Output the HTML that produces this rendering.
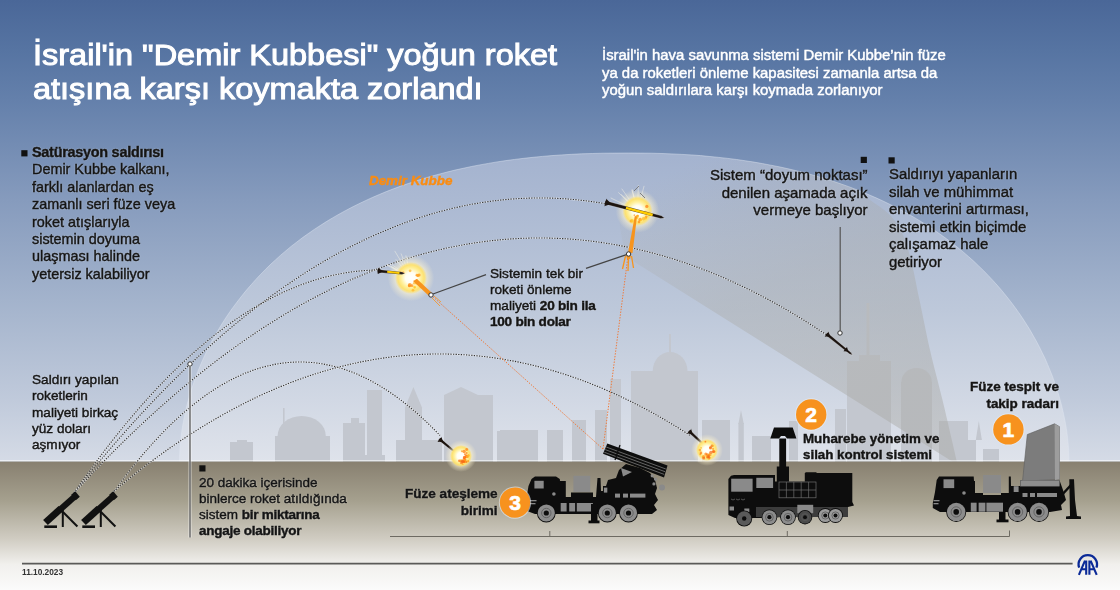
<!DOCTYPE html>
<html><head><meta charset="utf-8"><style>
html,body{margin:0;padding:0;width:1120px;height:590px;overflow:hidden;background:#fff}
#w{position:relative;width:1120px;height:590px;overflow:hidden;font-family:"Liberation Sans",sans-serif}
svg{position:absolute;left:0;top:0}
.t{position:absolute;white-space:nowrap;font-family:"Liberation Sans",sans-serif;will-change:transform}
.d b{letter-spacing:-0.25px}
.d{-webkit-text-stroke:0.45px #151515;text-shadow:0 0 1.5px rgba(255,255,255,0.7)}
</style></head><body><div id="w">
<svg width="1120" height="590" viewBox="0 0 1120 590">
<defs>
<linearGradient id="sky" x1="0" y1="0" x2="0" y2="462" gradientUnits="userSpaceOnUse">
<stop offset="0" stop-color="#4a6798"/><stop offset="0.108" stop-color="#5674a2"/><stop offset="0.216" stop-color="#6480ab"/><stop offset="0.433" stop-color="#869bbd"/><stop offset="0.649" stop-color="#a3b3cc"/><stop offset="0.866" stop-color="#c0cadb"/><stop offset="1" stop-color="#d5dbe6"/></linearGradient>
<linearGradient id="domeg" x1="0" y1="157" x2="0" y2="462" gradientUnits="userSpaceOnUse">
<stop offset="0" stop-color="#a4b3cf"/><stop offset="0.5" stop-color="#bdc8da"/><stop offset="1" stop-color="#dfe3eb"/></linearGradient>
<linearGradient id="ground" x1="0" y1="462" x2="0" y2="590" gradientUnits="userSpaceOnUse">
<stop offset="0" stop-color="#888070"/><stop offset="0.3" stop-color="#a5a08e"/><stop offset="0.6" stop-color="#d0ccc2"/><stop offset="0.8" stop-color="#f1f0ed"/><stop offset="1" stop-color="#fbfbfb"/></linearGradient>
<radialGradient id="boom"><stop offset="0" stop-color="#fff"/><stop offset="0.35" stop-color="#fffef2"/><stop offset="0.6" stop-color="#fff1a0"/><stop offset="0.82" stop-color="#ffe060" stop-opacity="0.85"/><stop offset="1" stop-color="#ffd84a" stop-opacity="0"/></radialGradient>
<filter id="bl" x="-50%" y="-50%" width="200%" height="200%"><feGaussianBlur stdDeviation="0.5"/></filter>
<radialGradient id="glow"><stop offset="0" stop-color="#fffdf0" stop-opacity="1"/><stop offset="0.55" stop-color="#fff8d8" stop-opacity="0.8"/><stop offset="0.8" stop-color="#fff4d0" stop-opacity="0.35"/><stop offset="1" stop-color="#fff4d0" stop-opacity="0"/></radialGradient>
<linearGradient id="beamg" x1="820" y1="420" x2="700" y2="160" gradientUnits="userSpaceOnUse"><stop offset="0" stop-color="#a8a8a4" stop-opacity="0.45"/><stop offset="0.5" stop-color="#a8a8a4" stop-opacity="0.36"/><stop offset="0.8" stop-color="#a8a8a4" stop-opacity="0.18"/><stop offset="1" stop-color="#a8a8a4" stop-opacity="0"/></linearGradient>
<clipPath id="dc"><path d="M179.5,461.5 L179.6,456.0 L179.9,450.1 L180.3,444.2 L180.9,438.1 L181.7,432.0 L182.6,425.8 L183.8,419.6 L185.0,413.4 L186.5,407.1 L188.1,400.9 L189.9,394.7 L191.8,388.4 L193.9,382.2 L196.1,376.1 L198.5,369.9 L201.0,363.8 L203.7,357.7 L206.5,351.7 L209.5,345.7 L212.6,339.8 L215.9,334.0 L219.3,328.2 L222.8,322.5 L226.5,316.8 L230.3,311.2 L234.3,305.7 L238.4,300.3 L242.6,294.9 L246.9,289.6 L251.4,284.5 L255.9,279.4 L260.6,274.4 L265.5,269.4 L270.4,264.6 L275.5,259.9 L280.7,255.2 L286.0,250.7 L291.4,246.2 L297.0,241.9 L302.6,237.6 L308.4,233.5 L314.3,229.4 L320.3,225.5 L326.4,221.6 L332.6,217.9 L339.0,214.2 L345.4,210.7 L352.0,207.2 L358.6,203.9 L365.4,200.7 L372.3,197.5 L379.3,194.5 L386.3,191.6 L393.5,188.8 L400.8,186.1 L408.3,183.5 L415.8,181.0 L423.4,178.6 L431.1,176.3 L439.0,174.2 L446.9,172.1 L455.0,170.1 L463.2,168.3 L471.5,166.5 L479.9,164.9 L488.4,163.4 L497.1,161.9 L505.9,160.6 L514.8,159.4 L523.9,158.3 L533.1,157.3 L542.4,156.4 L551.9,155.6 L561.7,154.9 L571.6,154.3 L581.8,153.8 L592.3,153.5 L603.2,153.2 L614.9,153.1 L628.5,153.0 L640.9,153.1 L651.7,153.2 L662.0,153.5 L672.0,153.9 L681.8,154.4 L691.3,154.9 L700.7,155.6 L709.9,156.5 L718.9,157.4 L727.9,158.4 L736.7,159.5 L745.4,160.8 L754.0,162.1 L762.4,163.6 L770.8,165.2 L779.1,166.8 L787.2,168.6 L795.3,170.5 L803.2,172.5 L811.1,174.6 L818.8,176.8 L826.5,179.1 L834.0,181.6 L841.4,184.1 L848.8,186.7 L856.0,189.5 L863.2,192.3 L870.2,195.3 L877.1,198.3 L884.0,201.5 L890.7,204.8 L897.3,208.1 L903.9,211.6 L910.3,215.2 L916.6,218.9 L922.8,222.7 L928.9,226.6 L934.9,230.5 L940.7,234.6 L946.5,238.8 L952.1,243.1 L957.7,247.5 L963.1,251.9 L968.4,256.5 L973.6,261.1 L978.6,265.9 L983.6,270.7 L988.4,275.7 L993.1,280.7 L997.7,285.8 L1002.1,290.9 L1006.4,296.2 L1010.6,301.5 L1014.7,307.0 L1018.6,312.4 L1022.4,318.0 L1026.0,323.6 L1029.6,329.3 L1032.9,335.1 L1036.2,340.9 L1039.3,346.8 L1042.2,352.7 L1045.1,358.6 L1047.7,364.7 L1050.2,370.7 L1052.6,376.8 L1054.8,382.9 L1056.9,389.0 L1058.8,395.2 L1060.5,401.4 L1062.1,407.6 L1063.5,413.7 L1064.8,419.9 L1065.9,426.0 L1066.9,432.2 L1067.6,438.2 L1068.2,444.2 L1068.7,450.2 L1068.9,456.0 L1069.0,461.5 Z"/></clipPath>
</defs>
<rect x="0" y="0" width="1120" height="462" fill="url(#sky)"/>
<path d="M179.5,461.5 L179.6,456.0 L179.9,450.1 L180.3,444.2 L180.9,438.1 L181.7,432.0 L182.6,425.8 L183.8,419.6 L185.0,413.4 L186.5,407.1 L188.1,400.9 L189.9,394.7 L191.8,388.4 L193.9,382.2 L196.1,376.1 L198.5,369.9 L201.0,363.8 L203.7,357.7 L206.5,351.7 L209.5,345.7 L212.6,339.8 L215.9,334.0 L219.3,328.2 L222.8,322.5 L226.5,316.8 L230.3,311.2 L234.3,305.7 L238.4,300.3 L242.6,294.9 L246.9,289.6 L251.4,284.5 L255.9,279.4 L260.6,274.4 L265.5,269.4 L270.4,264.6 L275.5,259.9 L280.7,255.2 L286.0,250.7 L291.4,246.2 L297.0,241.9 L302.6,237.6 L308.4,233.5 L314.3,229.4 L320.3,225.5 L326.4,221.6 L332.6,217.9 L339.0,214.2 L345.4,210.7 L352.0,207.2 L358.6,203.9 L365.4,200.7 L372.3,197.5 L379.3,194.5 L386.3,191.6 L393.5,188.8 L400.8,186.1 L408.3,183.5 L415.8,181.0 L423.4,178.6 L431.1,176.3 L439.0,174.2 L446.9,172.1 L455.0,170.1 L463.2,168.3 L471.5,166.5 L479.9,164.9 L488.4,163.4 L497.1,161.9 L505.9,160.6 L514.8,159.4 L523.9,158.3 L533.1,157.3 L542.4,156.4 L551.9,155.6 L561.7,154.9 L571.6,154.3 L581.8,153.8 L592.3,153.5 L603.2,153.2 L614.9,153.1 L628.5,153.0 L640.9,153.1 L651.7,153.2 L662.0,153.5 L672.0,153.9 L681.8,154.4 L691.3,154.9 L700.7,155.6 L709.9,156.5 L718.9,157.4 L727.9,158.4 L736.7,159.5 L745.4,160.8 L754.0,162.1 L762.4,163.6 L770.8,165.2 L779.1,166.8 L787.2,168.6 L795.3,170.5 L803.2,172.5 L811.1,174.6 L818.8,176.8 L826.5,179.1 L834.0,181.6 L841.4,184.1 L848.8,186.7 L856.0,189.5 L863.2,192.3 L870.2,195.3 L877.1,198.3 L884.0,201.5 L890.7,204.8 L897.3,208.1 L903.9,211.6 L910.3,215.2 L916.6,218.9 L922.8,222.7 L928.9,226.6 L934.9,230.5 L940.7,234.6 L946.5,238.8 L952.1,243.1 L957.7,247.5 L963.1,251.9 L968.4,256.5 L973.6,261.1 L978.6,265.9 L983.6,270.7 L988.4,275.7 L993.1,280.7 L997.7,285.8 L1002.1,290.9 L1006.4,296.2 L1010.6,301.5 L1014.7,307.0 L1018.6,312.4 L1022.4,318.0 L1026.0,323.6 L1029.6,329.3 L1032.9,335.1 L1036.2,340.9 L1039.3,346.8 L1042.2,352.7 L1045.1,358.6 L1047.7,364.7 L1050.2,370.7 L1052.6,376.8 L1054.8,382.9 L1056.9,389.0 L1058.8,395.2 L1060.5,401.4 L1062.1,407.6 L1063.5,413.7 L1064.8,419.9 L1065.9,426.0 L1066.9,432.2 L1067.6,438.2 L1068.2,444.2 L1068.7,450.2 L1068.9,456.0 L1069.0,461.5 Z" fill="url(#domeg)" stroke="#dfe6f2" stroke-opacity="0.45" stroke-width="1"/>
<g fill="#c3c7cf"><rect x="230" y="442" width="23" height="20"/><rect x="237" y="440" width="10" height="5"/><rect x="275" y="436" width="55" height="26"/><rect x="343" y="423" width="22" height="39"/><rect x="351" y="418" width="8" height="6"/><rect x="367" y="390" width="15" height="72"/><rect x="360" y="455" width="25" height="7"/><rect x="405" y="408" width="17" height="54"/><rect x="396" y="440" width="46" height="22"/><rect x="444" y="395" width="49" height="67"/><rect x="497" y="431" width="23" height="31"/><rect x="500" y="430" width="38" height="32"/><rect x="547" y="430" width="16" height="32"/><rect x="572" y="420" width="14" height="42"/><rect x="595" y="410" width="12" height="52"/><rect x="610" y="379" width="11" height="83"/><rect x="631" y="371" width="67" height="91"/><rect x="702" y="420" width="28" height="42"/><rect x="752" y="436" width="19" height="26"/><rect x="789" y="421" width="9" height="41"/><rect x="835" y="409" width="11" height="53"/><rect x="847" y="361" width="44" height="101"/><rect x="859" y="355" width="21" height="7"/><rect x="901" y="382" width="31" height="80"/><rect x="939" y="421" width="29" height="41"/><rect x="983" y="449" width="16" height="13"/><rect x="968" y="440" width="8" height="22"/><path d="M277.6,436 A24.1,20 0 0 1 325.8,436 Z"/><rect x="283" y="408" width="1.6" height="20"/><path d="M404.8,408 L413.4,387 L422.2,408 Z"/><path d="M444,395 L461,387 L478,395 Z"/><path d="M652.7,371 A17.4,19 0 0 1 687.5,371 Z"/><rect x="669" y="334" width="2" height="22"/><rect x="866.5" y="303" width="3" height="55"/><path d="M901.4,382 A15.2,14 0 0 1 931.8,382 Z"/><path d="M975.8,440 L978.8,421 L981.9,440 Z"/><rect x="738.4" y="423" width="5.4" height="39"/><path d="M738.4,424 L741,410 L743.8,424Z"/></g>
<path clip-path="url(#dc)" d="M957,462 L953,462 L625,256 L605,140 L845,140 L852,186  C855.0,188.3 863.7,195.2 870.0,200.0 C876.3,204.8 884.5,209.2 890.0,215.0 C895.5,220.8 899.5,227.5 903.0,235.0 C906.5,242.5 908.2,249.2 911.0,260.0 C913.8,270.8 916.3,285.0 919.5,300.0 C922.7,315.0 926.2,333.3 930.0,350.0 C933.8,366.7 938.0,381.3 942.5,400.0 C947.0,418.7 954.6,451.7 957.0,462.0 Z" fill="url(#beamg)"/>
<rect x="0" y="461.5" width="1120" height="128.5" fill="url(#ground)"/>
<rect x="0" y="460" width="1120" height="1.2" fill="#fff" fill-opacity="0.55"/>
<path d="M74.0,492.9 Q339.5,156.9 605.0,203.7" fill="none" stroke="#fff" stroke-opacity="0.55" stroke-width="1.3"/><path d="M74.0,492.9 Q339.5,156.9 605.0,203.7" fill="none" stroke="#333" stroke-width="1.1" stroke-dasharray="1.3 1.3"/>
<path d="M74.0,493.0 Q226.0,271.5 378.0,270.0" fill="none" stroke="#fff" stroke-opacity="0.55" stroke-width="1.3"/><path d="M74.0,493.0 Q226.0,271.5 378.0,270.0" fill="none" stroke="#333" stroke-width="1.1" stroke-dasharray="1.3 1.3"/>
<path d="M72.0,495.2 Q449.2,80.1 826.5,334.9" fill="none" stroke="#fff" stroke-opacity="0.55" stroke-width="1.3"/><path d="M72.0,495.2 Q449.2,80.1 826.5,334.9" fill="none" stroke="#333" stroke-width="1.1" stroke-dasharray="1.3 1.3"/>
<path d="M113.5,492.4 Q276.8,264.1 440.0,435.5" fill="none" stroke="#fff" stroke-opacity="0.55" stroke-width="1.3"/><path d="M113.5,492.4 Q276.8,264.1 440.0,435.5" fill="none" stroke="#333" stroke-width="1.1" stroke-dasharray="1.3 1.3"/>
<path d="M111.8,493.0 Q400.9,247.6 690.0,435.4" fill="none" stroke="#fff" stroke-opacity="0.55" stroke-width="1.3"/><path d="M111.8,493.0 Q400.9,247.6 690.0,435.4" fill="none" stroke="#333" stroke-width="1.1" stroke-dasharray="1.3 1.3"/>
<path d="M603,449 L431,295" fill="none" stroke="#f07a3a" stroke-width="1" stroke-dasharray="1.4 1.4"/>

<path d="M603,449 L628,256" fill="none" stroke="#f07a3a" stroke-width="1" stroke-dasharray="1.4 1.4"/>

<g><line x1="637.5" y1="211.0" x2="618.3" y2="192.4" stroke="#fffbe6" stroke-opacity="0.7" stroke-width="0.6"/><line x1="637.5" y1="211.0" x2="621.7" y2="188.7" stroke="#fffbe6" stroke-opacity="0.7" stroke-width="0.6"/><line x1="637.5" y1="211.0" x2="631.9" y2="190.0" stroke="#fffbe6" stroke-opacity="0.7" stroke-width="0.6"/><line x1="637.5" y1="211.0" x2="610.7" y2="197.9" stroke="#fffbe6" stroke-opacity="0.7" stroke-width="0.6"/><line x1="637.5" y1="211.0" x2="621.1" y2="194.2" stroke="#fffbe6" stroke-opacity="0.7" stroke-width="0.6"/><line x1="637.5" y1="211.0" x2="644.1" y2="185.9" stroke="#fffbe6" stroke-opacity="0.7" stroke-width="0.6"/><line x1="637.5" y1="211.0" x2="638.4" y2="185.0" stroke="#fffbe6" stroke-opacity="0.7" stroke-width="0.6"/><line x1="637.5" y1="211.0" x2="632.1" y2="189.1" stroke="#fffbe6" stroke-opacity="0.7" stroke-width="0.6"/><circle cx="637.5" cy="211" r="21.8" fill="url(#glow)"/><circle cx="637.5" cy="211" r="15.0" fill="url(#boom)"/><g filter="url(#bl)"><circle cx="639.0" cy="221.9" r="1.3" fill="#ff8a14" fill-opacity="0.7"/><circle cx="637.6" cy="216.0" r="1.5" fill="#ffc82a" fill-opacity="0.7"/><circle cx="646.8" cy="206.4" r="1.6" fill="#ff7a10" fill-opacity="0.7"/><circle cx="643.5" cy="218.8" r="1.7" fill="#ffb52a" fill-opacity="0.7"/><circle cx="645.8" cy="217.5" r="1.2" fill="#ff9c1c" fill-opacity="0.7"/><circle cx="634.4" cy="215.2" r="0.9" fill="#ff9c1c" fill-opacity="0.7"/><circle cx="646.8" cy="213.1" r="1.6" fill="#ff7a10" fill-opacity="0.7"/><circle cx="645.4" cy="218.3" r="1.4" fill="#ffc82a" fill-opacity="0.7"/><circle cx="640.1" cy="219.5" r="1.7" fill="#ff8a14" fill-opacity="0.7"/><circle cx="631.1" cy="221.0" r="1.5" fill="#ff9c1c" fill-opacity="0.7"/><circle cx="637.1" cy="217.9" r="1.3" fill="#ffc82a" fill-opacity="0.7"/><circle cx="640.9" cy="220.3" r="1.0" fill="#ffc82a" fill-opacity="0.7"/><circle cx="636.9" cy="216.4" r="1.3" fill="#ffb52a" fill-opacity="0.7"/><circle cx="646.4" cy="216.5" r="1.2" fill="#ff9c1c" fill-opacity="0.7"/><circle cx="645.1" cy="212.0" r="1.2" fill="#ff8a14" fill-opacity="0.7"/><circle cx="646.3" cy="213.5" r="0.8" fill="#ffc82a" fill-opacity="0.7"/><circle cx="632.1" cy="220.7" r="1.8" fill="#ffc82a" fill-opacity="0.7"/><circle cx="637.9" cy="215.8" r="0.8" fill="#ff8a14" fill-opacity="0.7"/></g></g>
<polygon points="604.5,204.1 660.8,218.6 664.6,218.1 661.5,215.8 605.5,200.7" fill="#1c1410" stroke="#fff" stroke-opacity="0.5" stroke-width="0.5"/><polygon points="611.3,204.1 604.0,206.2 604.5,206.4 605.0,202.4" fill="#1c1410"/><polygon points="611.3,204.1 606.0,198.6 606.5,198.7 605.0,202.4" fill="#1c1410"/><line x1="625.9" y1="207.9" x2="652.7" y2="215.0" stroke="#ffcc00" stroke-width="2.5"/>
<path d="M634,191 L639,186 M640,193 L645,198" stroke="#777" stroke-width="0.9"/>
<polygon points="634.8,216 637,216.5 632.5,253 628,253" fill="#f7941d"/>
<path d="M625.5,256 L622.5,269 M628.6,256 L628,271 M631.5,256 L633.5,268" stroke="#f7941d" stroke-width="1.3"/>
<path d="M626,255 L631,255 L630,259 L627,259Z" fill="#f7941d"/>
<g><line x1="411.0" y1="278.0" x2="395.8" y2="259.3" stroke="#fffbe6" stroke-opacity="0.7" stroke-width="0.6"/><line x1="411.0" y1="278.0" x2="405.8" y2="255.4" stroke="#fffbe6" stroke-opacity="0.7" stroke-width="0.6"/><line x1="411.0" y1="278.0" x2="401.0" y2="253.5" stroke="#fffbe6" stroke-opacity="0.7" stroke-width="0.6"/><line x1="411.0" y1="278.0" x2="386.6" y2="264.1" stroke="#fffbe6" stroke-opacity="0.7" stroke-width="0.6"/><line x1="411.0" y1="278.0" x2="386.9" y2="265.2" stroke="#fffbe6" stroke-opacity="0.7" stroke-width="0.6"/><line x1="411.0" y1="278.0" x2="390.8" y2="266.1" stroke="#fffbe6" stroke-opacity="0.7" stroke-width="0.6"/><line x1="411.0" y1="278.0" x2="394.7" y2="250.9" stroke="#fffbe6" stroke-opacity="0.7" stroke-width="0.6"/><line x1="411.0" y1="278.0" x2="390.6" y2="263.8" stroke="#fffbe6" stroke-opacity="0.7" stroke-width="0.6"/><circle cx="411" cy="278" r="23.2" fill="url(#glow)"/><circle cx="411" cy="278" r="16.0" fill="url(#boom)"/><g filter="url(#bl)"><circle cx="413.0" cy="290.2" r="1.4" fill="#ffb52a" fill-opacity="0.7"/><circle cx="416.9" cy="275.2" r="1.4" fill="#ff9c1c" fill-opacity="0.7"/><circle cx="416.6" cy="279.9" r="0.9" fill="#ff7a10" fill-opacity="0.7"/><circle cx="414.8" cy="287.5" r="0.9" fill="#ffc82a" fill-opacity="0.7"/><circle cx="412.0" cy="285.7" r="1.4" fill="#ff8a14" fill-opacity="0.7"/><circle cx="414.5" cy="287.1" r="1.4" fill="#ffc82a" fill-opacity="0.7"/><circle cx="416.3" cy="283.1" r="1.5" fill="#ffb52a" fill-opacity="0.7"/><circle cx="416.8" cy="281.6" r="1.0" fill="#ff9c1c" fill-opacity="0.7"/><circle cx="417.8" cy="275.6" r="1.4" fill="#ff7a10" fill-opacity="0.7"/><circle cx="409.8" cy="285.0" r="1.9" fill="#ff8a14" fill-opacity="0.7"/><circle cx="414.1" cy="283.3" r="1.2" fill="#ffb52a" fill-opacity="0.7"/><circle cx="420.1" cy="286.5" r="0.9" fill="#ffc82a" fill-opacity="0.7"/><circle cx="400.4" cy="272.8" r="1.2" fill="#ff7a10" fill-opacity="0.7"/><circle cx="403.2" cy="272.7" r="1.3" fill="#ff8a14" fill-opacity="0.7"/><circle cx="419.1" cy="275.1" r="1.5" fill="#ff8a14" fill-opacity="0.7"/><circle cx="410.1" cy="270.8" r="1.4" fill="#ffb52a" fill-opacity="0.7"/><circle cx="409.3" cy="285.7" r="1.5" fill="#ff8a14" fill-opacity="0.7"/><circle cx="418.1" cy="275.2" r="1.5" fill="#ffb52a" fill-opacity="0.7"/></g></g>
<polygon points="377.5,272.4 401.9,274.4 405.0,273.5 402.1,272.0 377.7,269.4" fill="#1c1410" stroke="#fff" stroke-opacity="0.5" stroke-width="0.5"/><polygon points="383.0,271.4 377.3,274.2 377.8,274.2 377.6,270.9" fill="#1c1410"/><polygon points="383.0,271.4 377.9,267.6 378.4,267.7 377.6,270.9" fill="#1c1410"/><line x1="387.2" y1="271.8" x2="399.5" y2="273.0" stroke="#ffcc00" stroke-width="2.1"/>
<polygon points="413,281 417,279 432,293 429,296" fill="#f7941d"/>
<path d="M432,298 L440,306 M434,296 L441,302" stroke="#f7941d" stroke-width="1" stroke-opacity="0.8"/>
<polygon points="438.4,440.1 452.1,451.1 455.0,452.0 453.6,449.4 440.2,437.9" fill="#1c1410" stroke="#fff" stroke-opacity="0.5" stroke-width="0.5"/><polygon points="443.2,442.2 437.3,441.4 437.7,441.7 439.3,439.0" fill="#1c1410"/><polygon points="443.2,442.2 441.3,436.6 441.6,436.9 439.3,439.0" fill="#1c1410"/>
<g><circle cx="461" cy="456" r="15.9" fill="url(#glow)"/><circle cx="461" cy="456" r="11.0" fill="url(#boom)"/><g filter="url(#bl)"><circle cx="465.2" cy="460.8" r="1.7" fill="#ffb020" fill-opacity="0.7"/><circle cx="466.3" cy="462.0" r="1.0" fill="#f26a1a" fill-opacity="0.7"/><circle cx="465.0" cy="461.3" r="1.0" fill="#ffb020" fill-opacity="0.7"/><circle cx="464.5" cy="457.4" r="1.6" fill="#ff7a10" fill-opacity="0.7"/><circle cx="462.4" cy="461.3" r="1.3" fill="#f26a1a" fill-opacity="0.7"/><circle cx="461.6" cy="462.7" r="1.6" fill="#ff7a10" fill-opacity="0.7"/><circle cx="465.0" cy="454.3" r="1.1" fill="#ff7a10" fill-opacity="0.7"/><circle cx="459.4" cy="460.8" r="1.4" fill="#ff6a10" fill-opacity="0.7"/><circle cx="464.3" cy="462.0" r="1.3" fill="#ff7a10" fill-opacity="0.7"/><circle cx="464.1" cy="459.7" r="1.8" fill="#ff7a10" fill-opacity="0.7"/><circle cx="460.5" cy="461.0" r="1.1" fill="#ff9a18" fill-opacity="0.7"/><circle cx="466.6" cy="452.9" r="1.0" fill="#ff7a10" fill-opacity="0.7"/><circle cx="464.1" cy="451.5" r="1.7" fill="#ff7a10" fill-opacity="0.7"/><circle cx="462.9" cy="464.2" r="0.9" fill="#ffb020" fill-opacity="0.7"/><circle cx="466.4" cy="455.3" r="0.9" fill="#ff6a10" fill-opacity="0.7"/><circle cx="461.9" cy="451.3" r="1.0" fill="#ff9a18" fill-opacity="0.7"/><circle cx="466.5" cy="456.5" r="1.7" fill="#ff6a10" fill-opacity="0.7"/><circle cx="461.1" cy="459.9" r="0.9" fill="#ffb020" fill-opacity="0.7"/><circle cx="463.8" cy="461.7" r="1.3" fill="#ff6a10" fill-opacity="0.7"/><circle cx="468.5" cy="455.3" r="1.2" fill="#ffb020" fill-opacity="0.7"/><circle cx="465.2" cy="459.8" r="1.1" fill="#ff9a18" fill-opacity="0.7"/><circle cx="466.7" cy="449.5" r="1.4" fill="#ff7a10" fill-opacity="0.7"/><circle cx="462.3" cy="461.3" r="1.6" fill="#f26a1a" fill-opacity="0.7"/><circle cx="468.1" cy="461.2" r="1.1" fill="#ff9a18" fill-opacity="0.7"/><circle cx="467.6" cy="456.4" r="1.6" fill="#ffb020" fill-opacity="0.7"/><circle cx="464.4" cy="457.7" r="1.4" fill="#ff6a10" fill-opacity="0.7"/></g></g>
<polygon points="688.0,432.0 700.2,442.9 703.0,444.0 701.7,441.3 690.0,430.0" fill="#1c1410" stroke="#fff" stroke-opacity="0.5" stroke-width="0.5"/><polygon points="692.7,434.4 686.9,433.3 687.3,433.6 689.0,431.0" fill="#1c1410"/><polygon points="692.7,434.4 691.1,428.7 691.5,429.1 689.0,431.0" fill="#1c1410"/>
<g><circle cx="707" cy="450" r="15.9" fill="url(#glow)"/><circle cx="707" cy="450" r="11.0" fill="url(#boom)"/><g filter="url(#bl)"><circle cx="713.9" cy="451.6" r="1.5" fill="#ff6a10" fill-opacity="0.7"/><circle cx="707.6" cy="456.9" r="1.6" fill="#ff6a10" fill-opacity="0.7"/><circle cx="713.1" cy="448.9" r="1.1" fill="#ff9a18" fill-opacity="0.7"/><circle cx="710.5" cy="448.1" r="1.5" fill="#ff7a10" fill-opacity="0.7"/><circle cx="700.3" cy="454.2" r="1.0" fill="#ff9a18" fill-opacity="0.7"/><circle cx="703.6" cy="456.6" r="1.7" fill="#ff9a18" fill-opacity="0.7"/><circle cx="710.9" cy="452.4" r="1.7" fill="#f26a1a" fill-opacity="0.7"/><circle cx="709.0" cy="455.3" r="1.2" fill="#ffb020" fill-opacity="0.7"/><circle cx="707.9" cy="456.8" r="1.2" fill="#f26a1a" fill-opacity="0.7"/><circle cx="703.7" cy="458.1" r="1.5" fill="#f26a1a" fill-opacity="0.7"/><circle cx="708.9" cy="458.5" r="1.3" fill="#ffb020" fill-opacity="0.7"/><circle cx="709.2" cy="454.4" r="1.0" fill="#ff9a18" fill-opacity="0.7"/><circle cx="706.9" cy="455.8" r="1.4" fill="#ffb020" fill-opacity="0.7"/><circle cx="712.0" cy="445.9" r="1.4" fill="#f26a1a" fill-opacity="0.7"/><circle cx="707.4" cy="454.4" r="1.2" fill="#ff7a10" fill-opacity="0.7"/><circle cx="700.9" cy="452.9" r="1.3" fill="#ff7a10" fill-opacity="0.7"/><circle cx="705.4" cy="441.7" r="0.9" fill="#ff6a10" fill-opacity="0.7"/><circle cx="699.9" cy="450.1" r="1.3" fill="#ff9a18" fill-opacity="0.7"/><circle cx="710.0" cy="454.7" r="1.6" fill="#ff9a18" fill-opacity="0.7"/><circle cx="709.3" cy="457.6" r="1.2" fill="#ff6a10" fill-opacity="0.7"/><circle cx="712.8" cy="445.8" r="1.1" fill="#ffb020" fill-opacity="0.7"/><circle cx="708.6" cy="456.5" r="1.4" fill="#f26a1a" fill-opacity="0.7"/><circle cx="713.3" cy="451.6" r="1.4" fill="#ff6a10" fill-opacity="0.7"/><circle cx="705.8" cy="454.0" r="1.5" fill="#ff7a10" fill-opacity="0.7"/><circle cx="710.4" cy="447.5" r="1.3" fill="#f26a1a" fill-opacity="0.7"/><circle cx="701.1" cy="447.8" r="0.9" fill="#ffb020" fill-opacity="0.7"/></g></g>
<polygon points="825.6,334.9 849.6,354.1 852.5,355.0 851.0,352.4 827.4,332.7" fill="#1c1410" stroke="#fff" stroke-opacity="0.5" stroke-width="0.5"/><polygon points="830.4,337.0 824.6,336.2 824.9,336.5 826.5,333.8" fill="#1c1410"/><polygon points="830.4,337.0 828.4,331.4 828.8,331.7 826.5,333.8" fill="#1c1410"/><polygon points="848.3,351.5 843.5,351.2 845.2,349.1" fill="#1c1410"/><polygon points="848.3,351.5 847.0,346.9 845.2,349.1" fill="#1c1410"/>
<circle cx="431" cy="295" r="2.2" fill="#fff" stroke="#333" stroke-width="1"/>
<circle cx="628.6" cy="254" r="2.2" fill="#fff" stroke="#333" stroke-width="1"/>
<circle cx="190" cy="364" r="2.2" fill="#fff" stroke="#333" stroke-width="1"/>
<circle cx="840" cy="333" r="2.2" fill="#fff" stroke="#333" stroke-width="1"/>
<path d="M433,294 L486,274.6" stroke="#444" stroke-width="1.2" fill="none"/>
<path d="M586,268.4 L626.5,254.6" stroke="#444" stroke-width="1.2" fill="none"/>
<line x1="190" y1="366" x2="190" y2="537.5" stroke="#fff" stroke-opacity="0.6" stroke-width="3"/><line x1="190" y1="366" x2="190" y2="537.5" stroke="#555" stroke-width="1.3"/>
<line x1="840.2" y1="227" x2="840.2" y2="331" stroke="#555" stroke-width="1.2"/>
<rect x="21.3" y="150.2" width="6.2" height="6.2" fill="#111"/>
<rect x="860.7" y="156.8" width="6.2" height="6.2" fill="#111"/>
<rect x="888.5" y="157.3" width="6.2" height="6.2" fill="#111"/>
<rect x="199.3" y="465.3" width="6.2" height="6.2" fill="#111"/>
<path d="M390,536.5 L1009.5,536.5 L1009.5,530.5 M549.8,536.5 L549.8,531 M787.3,536.5 L787.3,531" stroke="#6d6a62" stroke-width="1" fill="none"/>
<line x1="22" y1="563.6" x2="1072.6" y2="563.6" stroke="#5a5a58" stroke-width="1.6"/>
<g stroke="#0b2a97" fill="none"><path d="M1079.2,567.6 A9.2,9.2 0 1 1 1096.4,567.6" stroke-width="2.3"/><path d="M1078.9,574.8 L1085,560.6 M1086.2,560.6 L1086.2,574.8 M1081.6,569.3 L1086.2,569.3 M1096.7,574.8 L1090.6,560.6 M1089.4,560.6 L1089.4,574.8 M1094,569.3 L1089.4,569.3" stroke-width="2.1"/></g>
<g transform="translate(0,0)" fill="#111" stroke="#111"><line x1="45.5" y1="522.5" x2="61" y2="508.5" stroke-width="7" stroke-linecap="butt"/><line x1="59" y1="510.5" x2="76.5" y2="495" stroke-width="6.2"/><line x1="73.5" y1="497.5" x2="77.5" y2="494" stroke-width="7"/><rect x="44.3" y="525.4" width="12.7" height="2.6" stroke="none"/><line x1="62.8" y1="509" x2="62.8" y2="527" stroke-width="2"/><line x1="63" y1="512" x2="77.4" y2="526.5" stroke-width="2"/></g>
<g transform="translate(38,0)" fill="#111" stroke="#111"><line x1="45.5" y1="522.5" x2="61" y2="508.5" stroke-width="7" stroke-linecap="butt"/><line x1="59" y1="510.5" x2="76.5" y2="495" stroke-width="6.2"/><line x1="73.5" y1="497.5" x2="77.5" y2="494" stroke-width="7"/><rect x="44.3" y="525.4" width="12.7" height="2.6" stroke="none"/><line x1="62.8" y1="509" x2="62.8" y2="527" stroke-width="2"/><line x1="63" y1="512" x2="77.4" y2="526.5" stroke-width="2"/></g>
<polygon points="527,511 526.5,498 528.5,486 531.5,479 535,476.5 556,476.5 559.8,479 560,481 565.8,481 565.8,497 571,497 571,492.5 593,492.5 593,497 596,497 597.5,478 600.5,478 601,491 603,491 603,486 606,486 608,480 616,478 619,470 626,464 640,468 650,473 655,480 657,488 655,494 658,500 654,505 657,510 652,514 535,514" fill="#0d0d0d" /><polygon points="607.3,443.6 667.5,465.6 664,477.5 603,453.7" fill="#0d0d0d" /><g stroke="#8a8a8a" stroke-width="0.7"><line x1="606.2" y1="447" x2="665.8" y2="469"/><line x1="605.2" y1="449.6" x2="665" y2="471.7"/><line x1="604.2" y1="452.2" x2="664.2" y2="474.4"/></g><line x1="620" y1="445" x2="615" y2="460" stroke="#0d0d0d" stroke-width="1.2"/><polygon points="621,468 632,472 623,476.5" fill="#8a8a8a" /><rect x="573.4" y="475.8" width="16.9" height="16.1" fill="#8a8a8a"/><rect x="534.4" y="480.8" width="9.3" height="7.7" fill="#8a8a8a"/><circle cx="553.9" cy="494" r="1.8" fill="#8a8a8a"/><rect x="560.7" y="503" width="5.9" height="8.5" fill="#8a8a8a"/><rect x="569.2" y="503" width="5.9" height="8.5" fill="#8a8a8a"/><rect x="576.8" y="503" width="16.1" height="8.5" fill="#8a8a8a"/><rect x="603.9" y="487.6" width="3.4" height="5" fill="#8a8a8a"/><rect x="615" y="493.6" width="5" height="4" fill="#8a8a8a"/><rect x="623" y="493.6" width="5" height="4" fill="#8a8a8a"/><rect x="630" y="493.6" width="15.4" height="4" fill="#8a8a8a"/><rect x="527.5" y="500" width="9" height="1.3" fill="#8a8a8a"/><rect x="527.5" y="503" width="8" height="1.3" fill="#8a8a8a"/><circle cx="652.2" cy="475.8" r="1.6" fill="#8a8a8a"/><circle cx="655.6" cy="479.2" r="1.6" fill="#8a8a8a"/><circle cx="653.9" cy="483.9" r="1.6" fill="#8a8a8a"/><circle cx="662" cy="487.6" r="3" fill="#8a8a8a"/><rect x="591" y="504" width="6.5" height="18" fill="#0d0d0d"/><rect x="588.5" y="520.5" width="11" height="2.8" fill="#0d0d0d"/><circle cx="546.3" cy="513" r="9.4" fill="#0d0d0d"/><circle cx="546.3" cy="513" r="8.6" fill="#8c8c8c"/><circle cx="546.3" cy="513" r="4.7" fill="none" stroke="#5a5a5a" stroke-width="0.8"/><circle cx="546.3" cy="513" r="2.6" fill="#0d0d0d"/><circle cx="607.3" cy="513" r="9.4" fill="#0d0d0d"/><circle cx="607.3" cy="513" r="8.6" fill="#8c8c8c"/><circle cx="607.3" cy="513" r="4.7" fill="none" stroke="#5a5a5a" stroke-width="0.8"/><circle cx="607.3" cy="513" r="2.6" fill="#0d0d0d"/><circle cx="628.5" cy="513" r="9.4" fill="#0d0d0d"/><circle cx="628.5" cy="513" r="8.6" fill="#8c8c8c"/><circle cx="628.5" cy="513" r="4.7" fill="none" stroke="#5a5a5a" stroke-width="0.8"/><circle cx="628.5" cy="513" r="2.6" fill="#0d0d0d"/>
<polygon points="728.4,515 728.4,479 731,475.8 734,475 775,475 775,481.5 776.8,481.5 776.8,466.6 779.3,466.6 779.3,438.6 786.1,438.6 786.1,466.6 789,466.6 789,481.5 804.8,481.5 804.8,473 806,472.2 816.5,472.2 816.5,473 852.3,473 852.3,502 854,505.5 848,507 848,514 760,518 735,518" fill="#0d0d0d" /><polygon points="774,427.4 792.7,427.4 796.4,438.6 787,438.6 785,436 781,436 779,438.6 770.3,438.6" fill="#0d0d0d" /><rect x="731.2" y="478.7" width="21.4" height="13" fill="#8a8a8a"/><rect x="756.3" y="477.8" width="16.8" height="10.2" fill="#8a8a8a"/><g stroke="#6e6e6e" stroke-width="0.7" fill="none"><rect x="779" y="482" width="37" height="15.8"/><line x1="779" y1="490" x2="816" y2="490"/><line x1="786.4" y1="482" x2="786.4" y2="497.8"/><line x1="793.8" y1="482" x2="793.8" y2="497.8"/><line x1="801.2" y1="482" x2="801.2" y2="497.8"/><line x1="808.6" y1="482" x2="808.6" y2="497.8"/><path d="M731,499 q2,2 4,0 M736,499 q2,2 4,0 M741,499 q2,2 4,0"/></g><rect x="729.5" y="506.5" width="4.5" height="4" fill="#8a8a8a"/><rect x="744.3" y="508.5" width="5" height="3.6" fill="#8a8a8a"/><rect x="756" y="507" width="92" height="10" fill="#3c3c3c"/><rect x="797.3" y="504.8" width="15.9" height="8.4" fill="#8a8a8a"/><circle cx="744.2" cy="518.5" r="8.0" fill="#0d0d0d"/><circle cx="744.2" cy="518.5" r="7.2" fill="#5a5a5a"/><circle cx="744.2" cy="518.5" r="4.0" fill="none" stroke="#5a5a5a" stroke-width="0.8"/><circle cx="744.2" cy="518.5" r="2.2" fill="#0d0d0d"/><circle cx="769.4" cy="517.2" r="7.8" fill="#0d0d0d"/><circle cx="769.4" cy="517.2" r="7.0" fill="#8c8c8c"/><circle cx="769.4" cy="517.2" r="3.9" fill="none" stroke="#5a5a5a" stroke-width="0.8"/><circle cx="769.4" cy="517.2" r="2.1" fill="#0d0d0d"/><circle cx="788.0" cy="517.2" r="7.8" fill="#0d0d0d"/><circle cx="788.0" cy="517.2" r="7.0" fill="#8c8c8c"/><circle cx="788.0" cy="517.2" r="3.9" fill="none" stroke="#5a5a5a" stroke-width="0.8"/><circle cx="788.0" cy="517.2" r="2.1" fill="#0d0d0d"/><circle cx="805" cy="517.2" r="7.2" fill="#0d0d0d"/><circle cx="805" cy="517.2" r="6.4" fill="#4a4a4a"/><circle cx="805" cy="517.2" r="3.5" fill="none" stroke="#5a5a5a" stroke-width="0.8"/><circle cx="805" cy="517.2" r="1.9" fill="#0d0d0d"/><circle cx="825.3" cy="515.5" r="7.4" fill="#0d0d0d"/><circle cx="825.3" cy="515.5" r="6.6" fill="#9a9a9a"/><circle cx="825.3" cy="515.5" r="3.6" fill="none" stroke="#5a5a5a" stroke-width="0.8"/><circle cx="825.3" cy="515.5" r="2.0" fill="#0d0d0d"/><circle cx="835.5" cy="515.5" r="7.4" fill="#0d0d0d"/><circle cx="835.5" cy="515.5" r="6.6" fill="#9a9a9a"/><circle cx="835.5" cy="515.5" r="3.6" fill="none" stroke="#5a5a5a" stroke-width="0.8"/><circle cx="835.5" cy="515.5" r="2.0" fill="#0d0d0d"/>
<polygon points="932.8,508 932.8,503 935,492 936.7,480 939,476.4 973.7,476.4 974,481 975,481 975,493 983,493 983,495 1001,495 1001,493 1008.8,493 1008.8,476.4 1010.8,476.4 1011,486 1020.5,486 1020.5,480.3 1059.5,480.3 1063,490 1066,500 1061,505 1062,510 1050,512 940,512" fill="#0d0d0d" /><polygon points="1069.3,479.3 1074,479.3 1075,500 1077,516 1081,516.5 1081,519 1066,519 1066,516.5 1070,516" fill="#0d0d0d" /><line x1="1060" y1="497" x2="1071" y2="485" stroke="#0d0d0d" stroke-width="2.5"/><rect x="999" y="508" width="6.5" height="12" fill="#0d0d0d"/><rect x="996.5" y="519.5" width="12" height="2.8" fill="#0d0d0d"/><rect x="983.1" y="475" width="17.9" height="18" fill="#8a8a8a"/><rect x="943.5" y="479.3" width="10.7" height="8.8" fill="#8a8a8a"/><circle cx="964" cy="493" r="1.8" fill="#8a8a8a"/><rect x="933.5" y="500" width="6" height="1.3" fill="#8a8a8a"/><rect x="933.5" y="503" width="5" height="1.3" fill="#8a8a8a"/><rect x="970.8" y="502.7" width="5.8" height="9" fill="#8a8a8a"/><rect x="978.6" y="502.7" width="6.8" height="9" fill="#8a8a8a"/><rect x="986.4" y="502.7" width="16.6" height="9" fill="#8a8a8a"/><rect x="1013.7" y="486.2" width="4.9" height="5.8" fill="#8a8a8a"/><rect x="1022.5" y="493" width="5" height="4" fill="#8a8a8a"/><rect x="1030" y="493" width="5" height="4" fill="#8a8a8a"/><rect x="1037" y="493" width="20" height="4" fill="#8a8a8a"/><polygon points="1022.5,481.3 1027.3,434.5 1054.6,423.8 1059.5,426.7 1059.5,479.3" fill="#7c7c7c" stroke="#5e5e5e" stroke-width="0.6"/><polygon points="1054.6,423.8 1059.5,426.7 1059.5,479.3 1055,480" fill="#9d9d9d"/><rect x="1020.5" y="480.3" width="39" height="5.9" fill="#8e8e8e" stroke="#666" stroke-width="0.5"/><circle cx="956.2" cy="511.9" r="10.0" fill="#0d0d0d"/><circle cx="956.2" cy="511.9" r="9.2" fill="#8c8c8c"/><circle cx="956.2" cy="511.9" r="5.1" fill="none" stroke="#5a5a5a" stroke-width="0.8"/><circle cx="956.2" cy="511.9" r="2.8" fill="#0d0d0d"/><circle cx="1017.6" cy="511.9" r="10.0" fill="#0d0d0d"/><circle cx="1017.6" cy="511.9" r="9.2" fill="#8c8c8c"/><circle cx="1017.6" cy="511.9" r="5.1" fill="none" stroke="#5a5a5a" stroke-width="0.8"/><circle cx="1017.6" cy="511.9" r="2.8" fill="#0d0d0d"/><circle cx="1039" cy="511.9" r="10.0" fill="#0d0d0d"/><circle cx="1039" cy="511.9" r="9.2" fill="#8c8c8c"/><circle cx="1039" cy="511.9" r="5.1" fill="none" stroke="#5a5a5a" stroke-width="0.8"/><circle cx="1039" cy="511.9" r="2.8" fill="#0d0d0d"/>
<circle cx="515" cy="502.6" r="16.2" fill="#e6eef8" fill-opacity="0.6"/><circle cx="515" cy="502.6" r="15.2" fill="#f7921e"/>
<text x="515" y="510.1" text-anchor="middle" font-family="Liberation Sans" font-weight="700" font-size="21" fill="#fff" stroke="#fff" stroke-width="0.7">3</text>
<circle cx="811.2" cy="414.5" r="16.2" fill="#e6eef8" fill-opacity="0.6"/><circle cx="811.2" cy="414.5" r="15.2" fill="#f7921e"/>
<text x="811.2" y="422.0" text-anchor="middle" font-family="Liberation Sans" font-weight="700" font-size="21" fill="#fff" stroke="#fff" stroke-width="0.7">2</text>
<circle cx="1008.4" cy="429.4" r="16.2" fill="#e6eef8" fill-opacity="0.6"/><circle cx="1008.4" cy="429.4" r="15.2" fill="#f7921e"/>
<text x="1008.4" y="436.9" text-anchor="middle" font-family="Liberation Sans" font-weight="700" font-size="21" fill="#fff" stroke="#fff" stroke-width="0.7">1</text>
</svg>
<div class="t" style="left:33px;top:37.91px;font-size:30px;line-height:34.4px;font-weight:400;color:#fff;font-style:normal;-webkit-text-stroke:1.0px #fff;transform:scaleX(1.083);transform-origin:left top;">İsrail'in "Demir Kubbesi" yoğun roket<br>atışına karşı koymakta zorlandı</div>
<div class="t" style="left:601.5px;top:47.39px;font-size:14.9px;line-height:17.7px;font-weight:400;color:#fff;font-style:normal;-webkit-text-stroke:0.45px #fff;">İsrail'in hava savunma sistemi Demir Kubbe’nin füze<br>ya da roketleri önleme kapasitesi zamanla artsa da<br>yoğun saldırılara karşı koymada zorlanıyor</div>
<div class="t d" style="left:32.3px;top:143.91px;font-size:14.4px;line-height:17.4px;font-weight:400;color:#151515;font-style:normal;"><b>Satürasyon saldırısı</b><br>Demir Kubbe kalkanı,<br>farklı alanlardan eş<br>zamanlı seri füze veya<br>roket atışlarıyla<br>sistemin doyuma<br>ulaşması halinde<br>yetersiz kalabiliyor</div>
<div class="t d" style="left:32px;top:372.24px;font-size:13.6px;line-height:16.3px;font-weight:400;color:#151515;font-style:normal;">Saldırı yapılan<br>roketlerin<br>maliyeti birkaç<br>yüz doları<br>aşmıyor</div>
<div class="t" style="left:369px;top:173.06px;font-size:13.4px;line-height:16px;font-weight:700;color:#fa8c12;font-style:italic;-webkit-text-stroke:0.4px #fa8c12;">Demir Kubbe</div>
<div class="t d" style="left:489.6px;top:266.44px;font-size:13.6px;line-height:16.1px;font-weight:400;color:#151515;font-style:normal;">Sistemin tek bir<br>roketi önleme<br>maliyeti <b>20 bin ila</b><br><b>100 bin dolar</b></div>
<div class="t d" style="right:252.5px;text-align:right;top:165.85px;font-size:15.0px;line-height:17.7px;font-weight:400;color:#151515;font-style:normal;">Sistem “doyum noktası”<br>denilen aşamada açık<br>vermeye başlıyor</div>
<div class="t d" style="left:888.5px;top:166.06px;font-size:14.9px;line-height:17.55px;font-weight:400;color:#151515;font-style:normal;">Saldırıyı yapanların<br>silah ve mühimmat<br>envanterini artırması,<br>sistemi etkin biçimde<br>çalışamaz hale<br>getiriyor</div>
<div class="t d" style="left:199.3px;top:475.17px;font-size:13.5px;line-height:15.9px;font-weight:400;color:#151515;font-style:normal;">20 dakika içerisinde<br>binlerce roket atıldığında<br>sistem <b>bir miktarına</b><br><b>angaje olabiliyor</b></div>
<div class="t d" style="right:622px;text-align:right;top:485.60px;font-size:13.55px;line-height:16.8px;font-weight:700;color:#151515;font-style:normal;">Füze ateşleme<br>birimi</div>
<div class="t d" style="left:802.8px;top:430.87px;font-size:13.35px;line-height:16.2px;font-weight:700;color:#151515;font-style:normal;">Muharebe yönetim ve<br>silah kontrol sistemi</div>
<div class="t d" style="right:60.700000000000045px;text-align:right;top:378.94px;font-size:13.45px;line-height:16.8px;font-weight:700;color:#151515;font-style:normal;">Füze tespit ve<br>takip radarı</div>
<div class="t" style="left:22px;top:566.62px;font-size:8.3px;line-height:10px;font-weight:700;color:#333;font-style:normal;">11.10.2023</div>
</div></body></html>
